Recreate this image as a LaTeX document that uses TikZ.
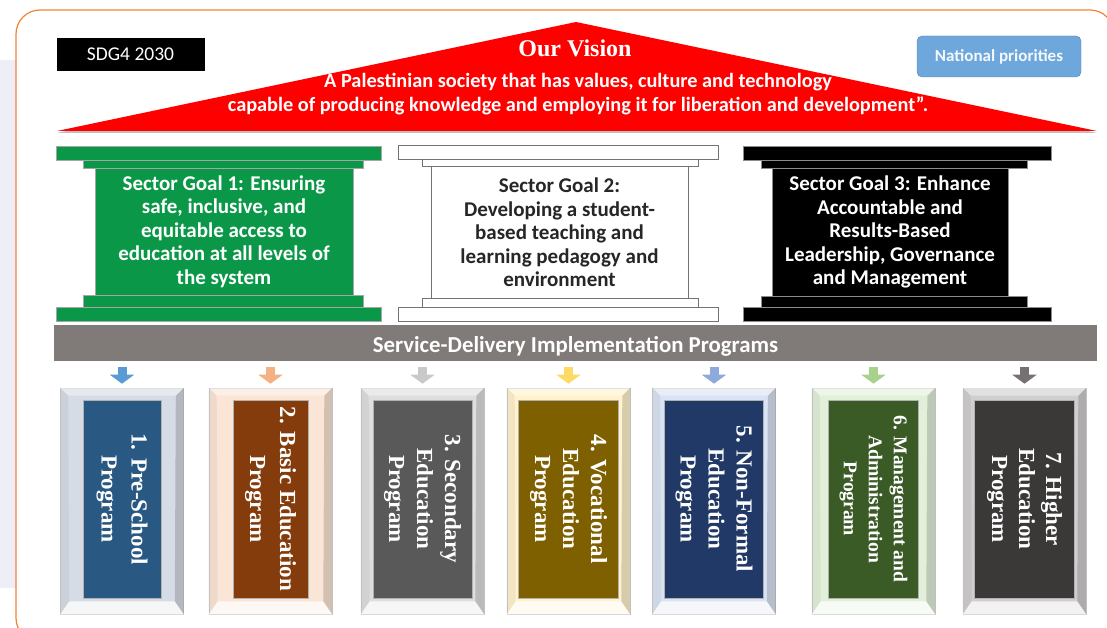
\documentclass[tikz,border=0pt]{standalone}
\usepackage{fontspec}
\setmainfont{Carlito}
\newfontfamily\timesfont{Liberation Serif}
\usetikzlibrary{arrows.meta, calc}

\definecolor{visionred}{RGB}{255,0,0}
\definecolor{goalgreen}{RGB}{10,152,72}
\definecolor{bargray}{RGB}{128,123,121}
\definecolor{natblue}{RGB}{110,167,219}
\definecolor{borderorange}{RGB}{245,130,50}
\definecolor{sidebg}{RGB}{238,238,247}
\definecolor{liteA}{RGB}{214,220,229}\definecolor{darkA}{RGB}{41,88,131}\definecolor{arrA}{RGB}{91,155,213}
\definecolor{liteB}{RGB}{251,229,214}\definecolor{darkB}{RGB}{132,60,12}\definecolor{arrB}{RGB}{244,177,131}
\definecolor{liteC}{RGB}{222,222,222}\definecolor{darkC}{RGB}{89,89,89}\definecolor{arrC}{RGB}{201,201,201}
\definecolor{liteD}{RGB}{255,242,204}\definecolor{darkD}{RGB}{127,96,0}\definecolor{arrD}{RGB}{255,217,102}
\definecolor{liteE}{RGB}{218,227,243}\definecolor{darkE}{RGB}{32,57,102}\definecolor{arrE}{RGB}{142,169,219}
\definecolor{liteF}{RGB}{226,240,217}\definecolor{darkF}{RGB}{58,90,38}\definecolor{arrF}{RGB}{169,209,142}
\definecolor{liteG}{RGB}{208,206,206}\definecolor{darkG}{RGB}{59,56,56}\definecolor{arrG}{RGB}{118,113,113}

\begin{document}
\begin{tikzpicture}[x=1pt, y=-1pt,
  goaltext/.style={font=\bfseries\fontsize{21}{23.5}\selectfont, align=center, inner sep=0},
  greenpart/.style={fill=goalgreen, draw=black!35, line width=.6},
  whitepart/.style={fill=white, draw=black!55, line width=1},
  blackpart/.style={fill=black, draw=black!45, line width=.6},
  frame/.style={minimum width=123, minimum height=226, draw=black!20, line width=.6, inner sep=0},
  progbox/.style={rotate=-90, minimum width=198, text=white, align=center, inner sep=0,
    draw=black!30, line width=.4}]
\useasboundingbox (0,0) rectangle (1107,628);

% Background and frame
\fill[sidebg] (0,60) rectangle (16,588);
\draw[borderorange, line width=1.2, rounded corners=24] (16,10) rectangle (1114,642);

% Roof
\fill[black!25] (57,133) -- (576,24) -- (1097,133) -- cycle;
\fill[visionred] (57,131) -- (576,22) -- (1097,131) -- cycle;
\node[text=white, font=\timesfont\bfseries\fontsize{24}{28}\selectfont] (vision) at (575,48) {Our Vision};
\node[text=white, font=\bfseries\fontsize{20.3}{24}\selectfont, align=center, inner sep=0] (visiontext) at (578,94)
  {A Palestinian society that has values, culture and technology\\
   capable of producing knowledge and employing it for liberation and development''.};

\node[fill=black, text=white, font=\fontsize{19.5}{22}\selectfont, minimum width=148, minimum height=33] (sdg) at (130.5,54.5) {SDG4 2030};
\node[fill=natblue, draw=natblue!80!black, rounded corners=5, text=white!92!natblue, font=\bfseries\fontsize{17}{20}\selectfont,
  minimum width=164, minimum height=41] (natprio) at (999,56.5) {National priorities};

% Pillar 1
\draw[greenpart] (56,146) rectangle (381,160);
\draw[greenpart] (83,160) rectangle (363,168);
\draw[greenpart] (83,295) rectangle (363,307);
\draw[greenpart] (56,307) rectangle (381,321);
\node[greenpart, goaltext, text=white, minimum width=258, minimum height=127] (goal1) at (224,231.5)
  {Sector Goal 1: Ensuring\\safe, inclusive, and\\equitable access to\\education at all levels of\\the system};

% Pillar 2
\draw[whitepart] (398,146) rectangle (718,160);
\draw[whitepart] (422,160) rectangle (698,167);
\draw[whitepart] (422,298) rectangle (698,307);
\draw[whitepart] (398,307) rectangle (718,321);
\node[whitepart, goaltext, text=black!85, minimum width=257, minimum height=131] (goal2) at (559.5,232.5)
  {Sector Goal 2:\\Developing a student-\\based teaching and\\learning pedagogy and\\environment};

% Pillar 3
\draw[blackpart] (743,146) rectangle (1051,160);
\draw[blackpart] (761,160) rectangle (1027,168);
\draw[blackpart] (761,296) rectangle (1027,307);
\draw[blackpart] (743,307) rectangle (1051,321);
\node[blackpart, goaltext, text=white, minimum width=236, minimum height=128] (goal3) at (890,232)
  {Sector Goal 3: Enhance\\Accountable and\\Results-Based\\Leadership, Governance\\and Management};

% Programs bar
\node[fill=bargray, text=white, font=\bfseries\fontsize{22.8}{26}\selectfont, minimum width=1043, minimum height=36,
  text height=18pt, text depth=0pt] (bar) at (575.5,343)
  {Service-Delivery Implementation Programs};

% Programs
\foreach \i/\cx/\iw/\fs/\bs/\txt in {
  A/122/78/23/30/{1. Pre-School\\Program},
  B/270.5/75/23/30/{2. Basic Education\\Program},
  C/422.5/99/23/28/{3. Secondary\\Education\\Program},
  D/568.5/100/23/28/{4. Vocational\\Education\\Program},
  E/714/99/23/28/{5. Non-Formal\\Education\\Program},
  F/873.5/90/19.5/25/{6. Management and\\Administration\\Program},
  G/1024.5/100/23/27/{7. Higher\\Education\\Program}} {
  \node[frame, fill=lite\i] (frame\i) at (\cx,501) {};
  \fill[white, opacity=.4] (frame\i.north west) -- (frame\i.north east) -- ++(-8,8) -- ($(frame\i.north west)+(8,8)$) -- cycle;
  \fill[white, opacity=.75] (frame\i.south west) -- (frame\i.south east) -- ++(-9,-13) -- ($(frame\i.south west)+(9,-13)$) -- cycle;
  \fill[black, opacity=.16] (frame\i.north east) -- (frame\i.south east) -- ++(-9,-13) -- ($(frame\i.north east)+(-8,8)$) -- cycle;
  \fill[black, opacity=.05] (frame\i.north west) -- (frame\i.south west) -- ++(9,-13) -- ($(frame\i.north west)+(8,8)$) -- cycle;
  \node[progbox, fill=dark\i, minimum height=\iw, font=\timesfont\bfseries\fontsize{\fs}{\bs}\selectfont] (prog\i) at (\cx,499) {\txt};
  \draw[arr\i, line width=9pt, -{Triangle[width=24pt, length=9pt]}] ($(bar.south -| frame\i.north)+(0,6)$) -- ($(frame\i.north)+(0,-4)$);
}
\end{tikzpicture}
\end{document}
